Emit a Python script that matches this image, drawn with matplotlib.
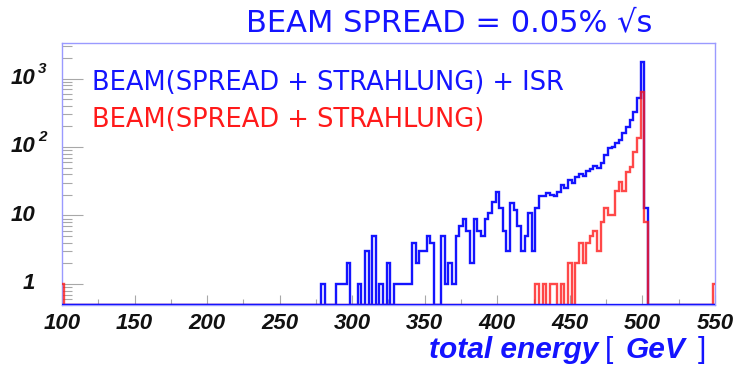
import numpy as np
import matplotlib
matplotlib.use("Agg")
import matplotlib.pyplot as plt
from matplotlib.ticker import FixedLocator, NullFormatter, LogLocator
from matplotlib.transforms import blended_transform_factory

# ---- histogram data (2.5 GeV bins, centred on multiples of 2.5 GeV) ----
bin_width = 2.5
e_min, e_max = 100.0, 550.0

# beam spread + beamstrahlung + ISR, first bin centred at 277.5 GeV
isr_start = 277.5
isr_counts = [
    0, 1, 0, 0, 0, 1, 1, 1, 2, 0,
    0, 1, 0, 3, 0, 5, 0, 1, 0, 2,
    0, 1, 1, 1, 1, 1, 4, 2, 3, 3,
    5, 4, 0, 0, 5, 1, 2, 1, 5, 7,
    9, 6, 2, 9, 6, 5, 9, 11, 16, 22,
    13, 6, 3, 15, 12, 7, 3, 5, 11, 3,
    13, 19, 19, 21, 20, 19, 22, 28, 25, 33,
    30, 36, 40, 38, 44, 48, 52, 50, 58, 76,
    96, 101, 114, 126, 160, 197, 248, 327, 520, 1750,
    13,
]

# beam spread + beamstrahlung only, first bin centred at 427.5 GeV
beam_start = 427.5
beam_counts = [
    1, 0, 1, 0, 1, 1, 0, 1, 0, 2,
    0, 2, 4, 2, 4, 5, 6, 3, 8, 13,
    10, 10, 23, 31, 23, 43, 51, 85, 135, 640,
    8,
]
# isolated entries in the end bins of the range
beam_edge_energies = [100.0, 550.0]
beam_edge_counts = [1, 1]

x_ticks = [100, 150, 200, 250, 300, 350, 400, 450, 500, 550]

centers = np.arange(e_min, e_max + bin_width / 2, bin_width)
edges = np.append(centers - bin_width / 2, centers[-1] + bin_width / 2)


def fill(start, counts):
    h = np.zeros(len(centers))
    i0 = int(round((start - e_min) / bin_width))
    h[i0:i0 + len(counts)] = counts
    return h


h_isr = fill(isr_start, isr_counts)
h_beam = fill(beam_start, beam_counts)
for e, c in zip(beam_edge_energies, beam_edge_counts):
    h_beam[int(round((e - e_min) / bin_width))] = c

# ---- figure ----
W, H = 737, 371
fig = plt.figure(figsize=(W / 100, H / 100), dpi=100)
ax = fig.add_axes([62 / W, 1 - 305 / H, (715 - 62) / W, (305 - 42.5) / H])

y_floor = 0.4936
y_top = 3354.0
ax.set_yscale("log")
ax.set_xlim(e_min, e_max)
ax.set_ylim(y_floor, y_top)

blue = "#1414ff"
red = "#ff1a1a"

ax.stairs(np.where(h_isr > 0, h_isr, y_floor), edges, baseline=y_floor,
          color=blue, lw=1.7, zorder=3)
ax.stairs(np.where(h_beam > 0, h_beam, y_floor), edges, baseline=y_floor,
          color=red, lw=1.7, alpha=0.8, zorder=4)
# empty bins of the full spectrum sit on the lower frame
ax.axhline(y_floor, color=blue, lw=1.7, zorder=5)

for s in ax.spines.values():
    s.set_color("#9a9aff")
    s.set_linewidth(1.0)

tick_col = "#a8a8a8"
ax.xaxis.set_major_locator(FixedLocator(x_ticks))
ax.xaxis.set_minor_locator(FixedLocator(np.arange(125, 550, 50)))
ax.set_xticklabels([str(t) for t in x_ticks])
ax.tick_params(axis="x", which="major", direction="in", length=7, width=0.8,
               color=tick_col, pad=6, labelsize=16)
ax.tick_params(axis="x", which="minor", direction="in", length=4, width=0.8,
               color=tick_col)
for lab in ax.get_xticklabels():
    lab.set_fontfamily("Liberation Sans")
    lab.set_fontweight("bold")
    lab.set_fontstyle("italic")
    lab.set_color("#111111")

ax.yaxis.set_major_locator(FixedLocator([1, 10, 100, 1000]))
ax.yaxis.set_minor_locator(LogLocator(base=10, subs=np.arange(2, 10), numticks=20))
ax.yaxis.set_major_formatter(NullFormatter())
ax.yaxis.set_minor_formatter(NullFormatter())
ax.tick_params(axis="y", which="major", direction="in", length=15, width=0.8,
               color=tick_col)
ax.tick_params(axis="y", which="minor", direction="in", length=7, width=0.8,
               color=tick_col)
ax.tick_params(axis="both", which="both", top=False, right=False)

# y tick labels, PAW style with raised exponents
ytr = blended_transform_factory(fig.transFigure, ax.transData)
lab_font = dict(family="Liberation Sans", weight="bold", style="italic",
                size=16, color="#111111")
for val, base, exp in [(1, "1", None), (10, "10", None),
                       (100, "10", "2"), (1000, "10", "3")]:
    fig.text(35 / W, val, base, ha="right", va="center", transform=ytr, **lab_font)
    if exp:
        fig.text(38 / W, val * 10 ** 0.14, exp, ha="left", va="center",
                 transform=ytr, family="Liberation Sans", weight="bold",
                 style="italic", size=11, color="#111111")

# title
fig.text(652 / W, 1 - 31.5 / H, "BEAM SPREAD = 0.05% \u221as", ha="right",
         va="baseline", color=blue, fontsize=22, family="DejaVu Sans")

# series labels
fig.text(92 / W, 1 - 89.5 / H, "BEAM(SPREAD + STRAHLUNG) + ISR", ha="left",
         va="baseline", color=blue, fontsize=18.5, family="DejaVu Sans")
fig.text(92 / W, 1 - 127 / H, "BEAM(SPREAD + STRAHLUNG)", ha="left",
         va="baseline", color=red, fontsize=18.5, family="DejaVu Sans")

# axis title: "total energy [ GeV ]"
xl = dict(color=blue, fontsize=21.5, family="Liberation Sans")
t_close = fig.text(706 / W, 1 - 358 / H, "]", ha="right", va="baseline", **xl)
t_gev = ax.annotate("GeV", xy=(0, 0), xycoords=t_close, xytext=(-9, 0),
                    textcoords="offset points", ha="right", va="bottom",
                    weight="bold", style="italic", **xl)
t_open = ax.annotate("[", xy=(0, 0), xycoords=t_gev, xytext=(-9, 0),
                     textcoords="offset points", ha="right", va="bottom", **xl)
ax.annotate("total energy", xy=(0, 0), xycoords=t_open, xytext=(-4.5, 0),
            textcoords="offset points", ha="right", va="bottom",
            weight="bold", style="italic", **xl)

fig.savefig("out.png", dpi=100)
